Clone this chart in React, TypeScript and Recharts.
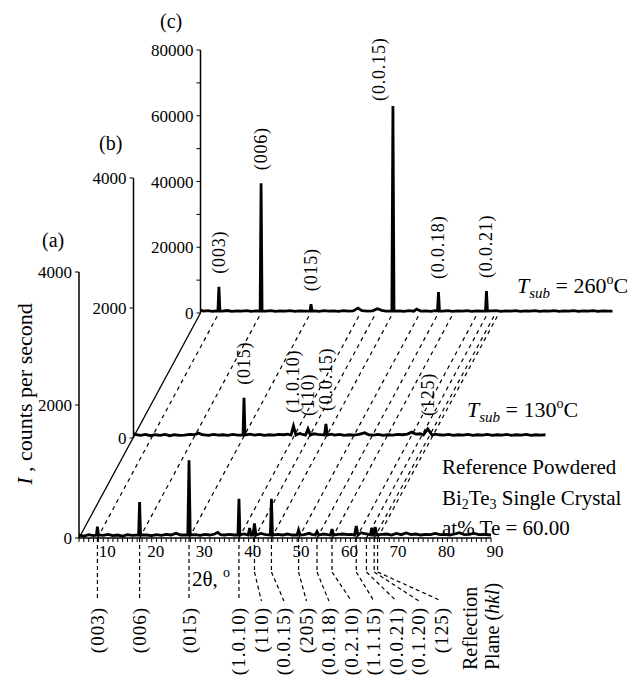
import React from "react";
import { ComposedChart, Line, XAxis, YAxis, ReferenceLine, ReferenceDot } from "recharts";

const FONT = '"Liberation Serif", "Times New Roman", Times, serif';
const W = 633;
const H = 684;

// 2θ scan range and labelled ticks
const TWO_THETA: [number, number] = [5, 90];
const X_LABELS = [10, 20, 30, 40, 50, 60, 70, 80, 90];
const Y_TICKS_AB = [0, 2000, 4000];
const Y_TICKS_C = [0, 10000, 20000, 30000, 40000, 50000, 60000, 70000, 80000];

// reflection planes of the reference Bi2Te3 pattern
const PLANES = ["(003)", "(006)", "(015)", "(1.0.10)", "(110)", "(0.0.15)", "(205)", "(0.0.18)", "(0.2.10)", "(1.1.15)", "(0.0.21)", "(0.1.20)", "(125)"];
const PLANE_2THETA = [8.8, 17.5, 27.7, 38.0, 41.2, 44.7, 50.3, 54.1, 57.2, 62.2, 64.3, 65.9, 66.6];

// (a) reference powder, cps. peaks: [2θ, cps, half width]
const BASE_A = 45;
const PEAKS_A = [
  [8.8, 170, 0.2], [17.5, 540, 0.2], [27.7, 1170, 0.25], [38.0, 590, 0.2], [40.2, 150, 0.3],
  [41.2, 220, 0.3], [44.7, 590, 0.22], [50.3, 120, 0.3], [54.1, 95, 0.35], [57.2, 135, 0.3],
  [62.2, 180, 0.35], [65.4, 150, 0.3], [66.1, 165, 0.35],
];
const BG_A = [
  [5, 45], [6, 30], [7, 50], [8, 35], [10, 40], [11, 55], [12, 35], [13, 45], [14, 30], [15, 50], [16, 40],
  [19, 45], [20, 35], [21, 50], [22, 40], [23, 55], [24, 45], [25, 70], [26, 45], [29, 50], [30, 40],
  [31, 55], [32, 45], [33, 60], [33.6, 85], [34.2, 50], [35, 45], [36, 55], [37, 45], [39, 60], [42.5, 70],
  [43.5, 50], [46, 55], [47, 45], [48, 60], [49, 45], [51.5, 50], [52.5, 70], [53, 55], [55.5, 60],
  [56.3, 50], [58.5, 55], [59.5, 60], [60.5, 50], [61.2, 55], [63.2, 80], [63.7, 70], [64.5, 60],
  [67.5, 55], [68.5, 60], [69.5, 45], [70.5, 70], [71.5, 50], [72.5, 75], [73.5, 50], [74.5, 60],
  [75.5, 45], [76.5, 55], [77.5, 50], [78.5, 70], [79.5, 50], [80.5, 55], [81.5, 45], [82.5, 60],
  [83.5, 80], [84.5, 50], [85.5, 55], [86.5, 70], [87.5, 50], [88.5, 55], [90, 45],
];

// (b) film, Tsub = 130 C
const BASE_B = 45;
const PEAKS_B = [[27.8, 620, 0.2], [38.0, 185, 0.5], [41.0, 140, 0.5], [44.7, 215, 0.3], [65.7, 140, 0.9]];
const BG_B = [
  [5, 70], [5.5, 50], [6.5, 40], [7.5, 55], [8.5, 35], [9.5, 50], [10.5, 40], [11.5, 55], [12.5, 35],
  [13.5, 50], [14.5, 40], [15.5, 45], [16.5, 55], [17.5, 50], [18.4, 75], [19.2, 50], [20.5, 40],
  [21.5, 55], [22.5, 45], [23.5, 50], [24.5, 40], [25.5, 55], [26.5, 45], [29, 60], [30, 45], [31, 55],
  [32, 40], [33, 50], [34, 45], [35, 55], [36, 50], [36.8, 60], [39.3, 70], [39.7, 60], [42.2, 65],
  [43, 55], [45.8, 60], [46.5, 45], [47.5, 55], [48.5, 40], [49.5, 50], [50.5, 45], [51.5, 55],
  [52.7, 80], [53.5, 50], [54.5, 45], [55.5, 55], [56.5, 40], [57.5, 50], [58.5, 45], [59.5, 55],
  [60.5, 50], [61.5, 60], [62.4, 90], [63.2, 60], [64.2, 65], [67.3, 60], [68, 50], [69, 45], [70, 55],
  [71, 40], [72, 50], [73, 45], [74, 55], [75, 40], [76, 50], [77, 45], [78, 55], [79, 40], [80, 50],
  [81, 45], [82, 55], [83, 40], [84, 50], [85, 45], [86, 55], [87, 40], [88, 50], [89, 45], [90, 50],
];
const LABELS_B = [["(015)", 27.8, 620], ["(1.0.10)", 38.0, 185], ["(110)", 41.0, 140], ["(0.0.15)", 44.7, 215], ["(125)", 65.7, 140]];

// (c) film, Tsub = 260 C
const BASE_C = 600;
const PEAKS_C = [[8.8, 8000, 0.2], [17.5, 39500, 0.2], [27.8, 2700, 0.2], [44.7, 63000, 0.22], [54.1, 6400, 0.2], [64.0, 6700, 0.2]];
const BG_C = [
  [5, 900], [5.6, 600], [6.5, 700], [7.5, 500], [8.2, 650], [9.5, 600], [10.5, 750], [11.5, 500],
  [12.5, 650], [13.5, 550], [14.5, 700], [15.5, 500], [16.5, 650], [18.5, 600], [19.5, 700], [20.5, 500],
  [21.5, 650], [22.5, 550], [23.5, 700], [24.5, 500], [25.5, 650], [26.5, 600], [28.6, 650], [29.5, 500],
  [30.5, 700], [31.5, 550], [32.5, 650], [33.5, 500], [34.5, 700], [35.5, 550], [36.5, 650], [37.5, 1500],
  [38.3, 700], [39.5, 550], [40.5, 650], [41.5, 1300], [42.4, 800], [43.2, 600], [46, 650], [47, 500],
  [48, 700], [49, 550], [49.6, 1200], [50.4, 600], [51.5, 650], [52.5, 500], [53.4, 700], [55, 550],
  [56, 700], [57, 500], [58, 650], [59, 550], [60, 700], [61, 500], [62, 650], [63.2, 600], [65, 650],
  [66, 700], [67, 500], [68, 650], [69, 550], [70, 700], [71, 500], [72, 650], [73, 550], [74, 700],
  [75, 500], [76, 650], [77, 550], [78, 700], [79, 500], [80, 650], [81, 550], [82, 700], [83, 500],
  [84, 650], [85, 550], [86, 700], [87, 500], [88, 650], [89, 550], [90, 600],
];
const LABELS_C = [["(003)", 8.8, 8000], ["(006)", 17.5, 39500], ["(015)", 27.8, 2700], ["(0.0.15)", 44.7, 63000], ["(0.0.18)", 54.1, 6400], ["(0.0.21)", 64.0, 6700]];

// layout (pixels)
const PANEL_A = { left: 79, right: 491, top: 272, base: 538 };
const PANEL_B = { left: 133.5, right: 545.5, top: 178, base: 438 };
const PANEL_C = { left: 200.5, right: 612.5, top: 50, base: 313 };
const Y_W = 60;
const X_H = 30;
const LEAD_BEND = 572;
const LEAD_END = 601;
const LABEL_STEP = 22.5;
const NUDGE: Record<string, { dx: number; gap: number }> = { "(0.0.15)c": { dx: -14, gap: 5 } };

const trace = (bg: number[][], peaks: number[][], base: number) => {
  const pts = bg
    .filter(([x]) => !peaks.some(([p, , w]) => Math.abs(x - p) <= w + 0.1))
    .map(([x, y]) => ({ x, y }));
  peaks.forEach(([p, h, w]) => pts.push({ x: p - w, y: base }, { x: p, y: h }, { x: p + w, y: base }));
  return pts.sort((a, b) => a.x - b.x);
};

const margin = (p: typeof PANEL_A, xh: number) => ({
  top: p.top,
  left: p.left - Y_W,
  right: W - p.right,
  bottom: H - p.base - xh,
});

const pxPerDeg = (PANEL_A.right - PANEL_A.left) / (TWO_THETA[1] - TWO_THETA[0]);
const cpsPerPxA = 4000 / (PANEL_A.base - PANEL_A.top);
const skewDeg = (PANEL_C.left - PANEL_A.left) / pxPerDeg;
const skewCps = (PANEL_A.base - PANEL_C.base) * cpsPerPxA;
const yBend = -(LEAD_BEND - PANEL_A.base) * cpsPerPxA;
const yEnd = -(LEAD_END - PANEL_A.base) * cpsPerPxA;

let prev = -Infinity;
const labelDeg = PLANE_2THETA.map((t) => {
  const v = Math.max(t, prev + LABEL_STEP / pxPerDeg);
  prev = v;
  return v;
});

const serif: React.CSSProperties = { fontFamily: FONT };
const axisLine = { stroke: "#000", strokeWidth: 1.5 };
const minorTicks = Array.from({ length: 86 }, (_, i) => i + 5);

const XTick = (p: any) => {
  const v = p.payload?.value;
  if (!X_LABELS.includes(v)) return <g />;
  return (
    <text x={p.x + 4} y={p.y + 13} textAnchor="middle" fontSize={17} fill="#000" style={serif}>
      {v}
    </text>
  );
};

const YTick = (p: any) => {
  const v = p.payload?.value;
  const s = p.labels ? (p.labels.includes(v) ? String(v) : "") : String(v);
  return (
    <text x={p.x - 1} y={p.y + 6} textAnchor="end" fontSize={17} fill="#000" style={serif}>
      {s}
    </text>
  );
};

const peakLabel = (text: string, key: string) => (p: any) => {
  const n = NUDGE[key] || { dx: 0, gap: 13 };
  const x = p.cx + n.dx;
  const y = p.cy - n.gap;
  return (
    <text x={x} y={y} transform={`rotate(-90 ${x} ${y})`} dominantBaseline="central" fontSize={18}
      letterSpacing={0.8} fill="#000" style={serif}>
      {text}
    </text>
  );
};

const hklLabel = (text: string) => (p: any) => {
  const x = p.cx;
  const y = p.cy + 6;
  return (
    <text x={x} y={y} transform={`rotate(-90 ${x} ${y})`} textAnchor="end" dominantBaseline="central" fontSize={19}
      letterSpacing={1} fill="#000" style={serif}>
      {text}
    </text>
  );
};

const abs: React.CSSProperties = { position: "absolute", left: 0, top: 0 };

export default function App() {
  const dataA = trace(BG_A, PEAKS_A, BASE_A);
  const dataB = trace(BG_B, PEAKS_B, BASE_B);
  const dataC = trace(BG_C, PEAKS_C, BASE_C);

  return (
    <div style={{ position: "absolute", left: 0, top: 0, width: W, height: H, background: "#fff" }}>
      {/* (c) Tsub = 260 C */}
      <div style={abs}>
        <ComposedChart width={W} height={H} data={dataC} margin={margin(PANEL_C, 0)}>
          <XAxis type="number" dataKey="x" domain={TWO_THETA} hide height={0} />
          <YAxis type="number" domain={[0, 80000]} ticks={Y_TICKS_C} interval={0} width={Y_W} tickSize={4}
            tick={<YTick labels={[0, 20000, 40000, 60000, 80000]} />} axisLine={axisLine} tickLine={{ stroke: "#000" }} />
          <Line type="linear" dataKey="y" stroke="#000" strokeWidth={2.8} dot={false} isAnimationActive={false} />
          {LABELS_C.map(([t, x, y]) => (
            <ReferenceDot key={t as string} x={x as number} y={y as number} r={0} ifOverflow="visible"
              shape={peakLabel(t as string, `${t}c`)} />
          ))}
        </ComposedChart>
      </div>

      {/* (b) Tsub = 130 C */}
      <div style={abs}>
        <ComposedChart width={W} height={H} data={dataB} margin={margin(PANEL_B, 0)}>
          <XAxis type="number" dataKey="x" domain={TWO_THETA} hide height={0} />
          <YAxis type="number" domain={[0, 4000]} ticks={Y_TICKS_AB} interval={0} width={Y_W} tickSize={4}
            tick={<YTick />} axisLine={axisLine} tickLine={{ stroke: "#000" }} />
          <Line type="linear" dataKey="y" stroke="#000" strokeWidth={2.8} dot={false} isAnimationActive={false} />
          {LABELS_B.map(([t, x, y]) => (
            <ReferenceDot key={t as string} x={x as number} y={y as number} r={0} ifOverflow="visible"
              shape={peakLabel(t as string, `${t}b`)} />
          ))}
        </ComposedChart>
      </div>

      {/* (a) reference powder, with guide lines */}
      <div style={abs}>
        <ComposedChart width={W} height={H} data={dataA} margin={margin(PANEL_A, X_H)}>
          <XAxis type="number" dataKey="x" domain={TWO_THETA} ticks={minorTicks} interval={0} height={X_H}
            tickSize={4} tick={<XTick />} axisLine={axisLine} tickLine={{ stroke: "#000" }} />
          <YAxis type="number" domain={[0, 4000]} ticks={Y_TICKS_AB} interval={0} width={Y_W} tickSize={4}
            tick={<YTick />} axisLine={axisLine} tickLine={{ stroke: "#000" }} />
          <ReferenceLine ifOverflow="visible" stroke="#000" strokeWidth={1.3}
            segment={[{ x: TWO_THETA[0], y: 0 }, { x: TWO_THETA[0] + skewDeg, y: skewCps }]} />
          {PLANE_2THETA.map((t, i) => (
            <ReferenceLine key={`g${i}`} ifOverflow="visible" stroke="#000" strokeWidth={1.2} strokeDasharray="4 4"
              segment={[{ x: t, y: 0 }, { x: t + skewDeg, y: skewCps }]} />
          ))}
          {PLANE_2THETA.map((t, i) =>
            labelDeg[i] === t ? (
              <ReferenceLine key={`v${i}`} ifOverflow="visible" stroke="#000" strokeWidth={1.2} strokeDasharray="4 3"
                segment={[{ x: t, y: 0 }, { x: t, y: yEnd }]} />
            ) : (
              <React.Fragment key={`v${i}`}>
                <ReferenceLine ifOverflow="visible" stroke="#000" strokeWidth={1.2} strokeDasharray="4 3"
                  segment={[{ x: t, y: 0 }, { x: t, y: yBend }]} />
                <ReferenceLine ifOverflow="visible" stroke="#000" strokeWidth={1.2} strokeDasharray="4 3"
                  segment={[{ x: t, y: yBend }, { x: labelDeg[i], y: yEnd }]} />
              </React.Fragment>
            )
          )}
          {PLANES.map((p, i) => (
            <ReferenceDot key={p} x={labelDeg[i]} y={yEnd} r={0} ifOverflow="visible" shape={hklLabel(p)} />
          ))}
          <Line type="linear" dataKey="y" stroke="#000" strokeWidth={2.8} dot={false} isAnimationActive={false} />
        </ComposedChart>
      </div>

      <svg width={W} height={H} style={{ ...abs, pointerEvents: "none" }}>
        <g fill="#000" style={serif}>
          <text x={160} y={28} fontSize={20}>(c)</text>
          <text x={99} y={150} fontSize={20}>(b)</text>
          <text x={42} y={247} fontSize={20}>(a)</text>
          <text transform="translate(32,394) rotate(-90)" textAnchor="middle" fontSize={22}>
            <tspan fontStyle="italic">I</tspan> , counts per second
          </text>
          <text x={517} y={293} fontSize={22}>
            <tspan fontStyle="italic">T</tspan>
            <tspan fontStyle="italic" fontSize={15} dy={5}>sub</tspan>
            <tspan dy={-5}> = 260</tspan>
            <tspan fontSize={14} dy={-9}>o</tspan>
            <tspan dy={9}>C</tspan>
          </text>
          <text x={467} y={417} fontSize={22}>
            <tspan fontStyle="italic">T</tspan>
            <tspan fontStyle="italic" fontSize={15} dy={5}>sub</tspan>
            <tspan dy={-5}> = 130</tspan>
            <tspan fontSize={14} dy={-9}>o</tspan>
            <tspan dy={9}>C</tspan>
          </text>
          <text x={442} y={474} fontSize={21}>Reference Powdered</text>
          <text x={442} y={505} fontSize={21}>
            Bi<tspan fontSize={14} dy={4}>2</tspan>
            <tspan dy={-4}>Te</tspan>
            <tspan fontSize={14} dy={4}>3</tspan>
            <tspan dy={-4}> Single Crystal</tspan>
          </text>
          <text x={442} y={535} fontSize={21}>at% Te = 60.00</text>
          <text x={192} y={586} fontSize={21}>
            2θ, <tspan fontSize={14} dy={-9}>o</tspan>
          </text>
          <text transform="translate(477,670) rotate(-90)" fontSize={20}>Reflection</text>
          <text transform="translate(499,670) rotate(-90)" fontSize={20}>
            Plane (<tspan fontStyle="italic">hkl</tspan>)
          </text>
        </g>
      </svg>
    </div>
  );
}
